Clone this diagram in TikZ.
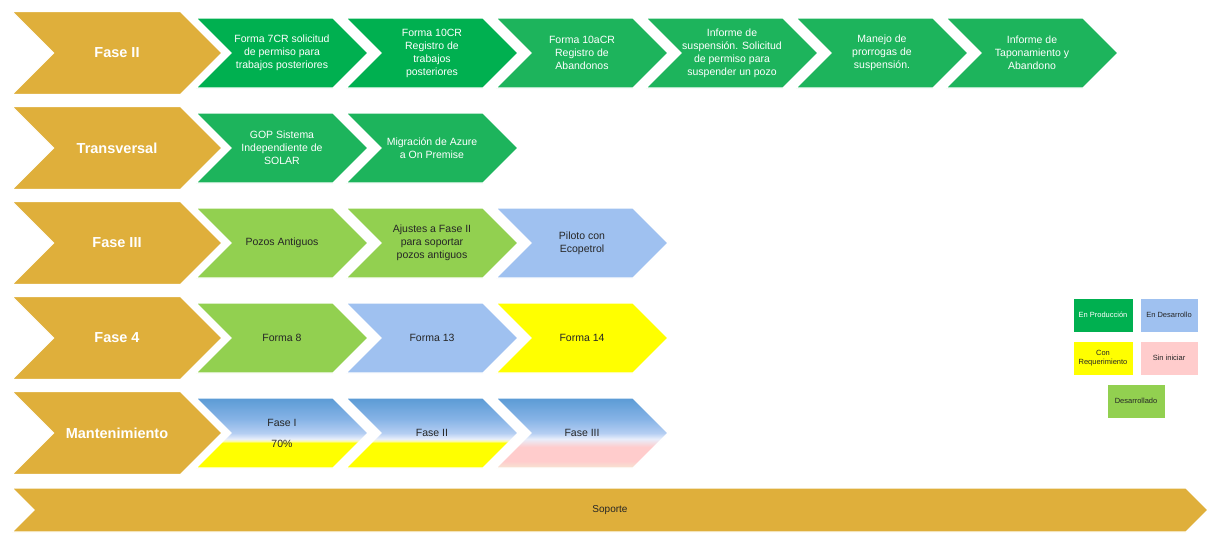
\documentclass[tikz,border=0pt]{standalone}
\usepackage{fontspec}
\setmainfont{Liberation Sans}
\usepackage{tikz}
\usetikzlibrary{shapes.symbols, positioning}
\usepackage{xcolor}

\definecolor{cgold}{HTML}{DFAF3B}
\definecolor{cprod}{HTML}{00B050}
\definecolor{cprodb}{HTML}{1DB45C}
\definecolor{cdone}{HTML}{92D050}
\definecolor{cdev}{HTML}{9FC1F0}
\definecolor{creq}{HTML}{FFFF00}
\definecolor{creql}{HTML}{FAFAB0}
\definecolor{cnone}{HTML}{FFCCCC}
\definecolor{cnonel}{HTML}{F6E4D2}
\definecolor{cmblue}{HTML}{5B9BD5}
\definecolor{cmidblue}{HTML}{86B3E6}
\definecolor{clblue}{HTML}{B4CEF2}
\definecolor{cwhite}{HTML}{E8EEFB}
\definecolor{ctext}{HTML}{262626}

\pgfdeclareverticalshading{mantreq}{100bp}{color(0bp)=(creq); color(25bp)=(creq); color(43bp)=(creq); color(44.3bp)=(creql); color(45.8bp)=(cwhite); color(50bp)=(clblue); color(60bp)=(cmidblue); color(75bp)=(cmblue); color(100bp)=(cmblue)}
\pgfdeclareverticalshading{mantnone}{100bp}{color(0bp)=(cnonel); color(25bp)=(cnonel); color(30bp)=(cnone); color(40bp)=(cnone); color(45.8bp)=(cwhite); color(50bp)=(clblue); color(60bp)=(cmidblue); color(75bp)=(cmblue); color(100bp)=(cmblue)}

\begin{document}
\begin{tikzpicture}[
    x=1pt, y=-1pt,
    phase/.style = {signal, signal from=west, signal to=east, signal pointer angle=90, draw=white, line width=1.2pt, fill=cgold, inner sep=0pt, minimum width=210, minimum height=83, text=white, font=\fontsize{14.5}{17}\selectfont\bfseries},
    task/.style = {signal, signal from=west, signal to=east, signal pointer angle=90, draw=white, line width=1.2pt, inner sep=0pt, minimum width=172, minimum height=70, align=center, text=ctext, font=\fontsize{10.5}{13}\selectfont},
    prod/.style = {task, fill=cprod, text=white},
    prodb/.style = {task, fill=cprodb, text=white},
    legend/.style = {rectangle, draw=white, line width=0.8pt, minimum width=60, minimum height=34, inner sep=1pt, align=center, text=ctext, font=\fontsize{7.5}{9}\selectfont}
]
\useasboundingbox (0,0) rectangle (1210,533);

% Phase: Fase II
\node (p_fase2) [phase] at (117, 53) {Fase II};
\node (t_forma7) [prod] at (282, 53) {Forma 7CR solicitud\\de permiso para\\trabajos posteriores};
\node (t_forma10) [prod] at (432, 53) {Forma 10CR\\Registro de\\trabajos\\posteriores};
\node (t_forma10a) [prodb] at (582, 53) {Forma 10aCR\\Registro de\\Abandonos};
\node (t_suspension) [prodb] at (732, 53) {Informe de\\suspensión. Solicitud\\de permiso para\\suspender un pozo};
\node (t_prorrogas) [prodb] at (882, 53) {Manejo de\\prorrogas de\\suspensión.};
\node (t_taponamiento) [prodb] at (1032, 53) {Informe de\\Taponamiento y\\Abandono};

% Phase: Transversal
\node (p_transversal) [phase] at (117, 148) {Transversal};
\node (t_gop) [prodb] at (282, 148) {GOP Sistema\\Independiente de\\SOLAR};
\node (t_azure) [prodb] at (432, 148) {Migración de Azure\\a On Premise};

% Phase: Fase III
\node (p_fase3) [phase] at (117, 243) {Fase III};
\node (t_pozos) [task, fill=cdone] at (282, 243) {Pozos Antiguos};
\node (t_ajustes) [task, fill=cdone] at (432, 243) {Ajustes a Fase II\\para soportar\\pozos antiguos};
\node (t_piloto) [task, fill=cdev] at (582, 243) {Piloto con\\Ecopetrol};

% Phase: Fase 4
\node (p_fase4) [phase] at (117, 338) {Fase 4};
\node (t_forma8) [task, fill=cdone] at (282, 338) {Forma 8};
\node (t_forma13) [task, fill=cdev] at (432, 338) {Forma 13};
\node (t_forma14) [task, fill=creq] at (582, 338) {Forma 14};

% Phase: Mantenimiento
\node (p_mant) [phase] at (117, 433) {Mantenimiento};
\node (t_mant1) [task, shade, shading=mantreq, font=\fontsize{10.5}{21}\selectfont] at (282, 433) {Fase I\\70\%};
\node (t_mant2) [task, shade, shading=mantreq] at (432, 433) {Fase II};
\node (t_mant3) [task, shade, shading=mantnone] at (582, 433) {Fase III};

% Support band
\node (p_soporte) [phase, minimum width=1196, minimum height=44, text=ctext, font=\fontsize{10}{12}\selectfont] at (610, 510) {Soporte};

% Legend
\node (l_prod) [legend, fill=cprod, text=white] at (1103, 315) {En Producción};
\node (l_dev) [legend, fill=cdev, minimum width=58] at (1169, 315) {En Desarrollo};
\node (l_req) [legend, fill=creq] at (1103, 358) {Con\\Requerimiento};
\node (l_none) [legend, fill=cnone, minimum width=58] at (1169, 358) {Sin iniciar};
\node (l_done) [legend, fill=cdone, minimum width=58] at (1136, 401) {Desarrollado};

\end{tikzpicture}
\end{document}
